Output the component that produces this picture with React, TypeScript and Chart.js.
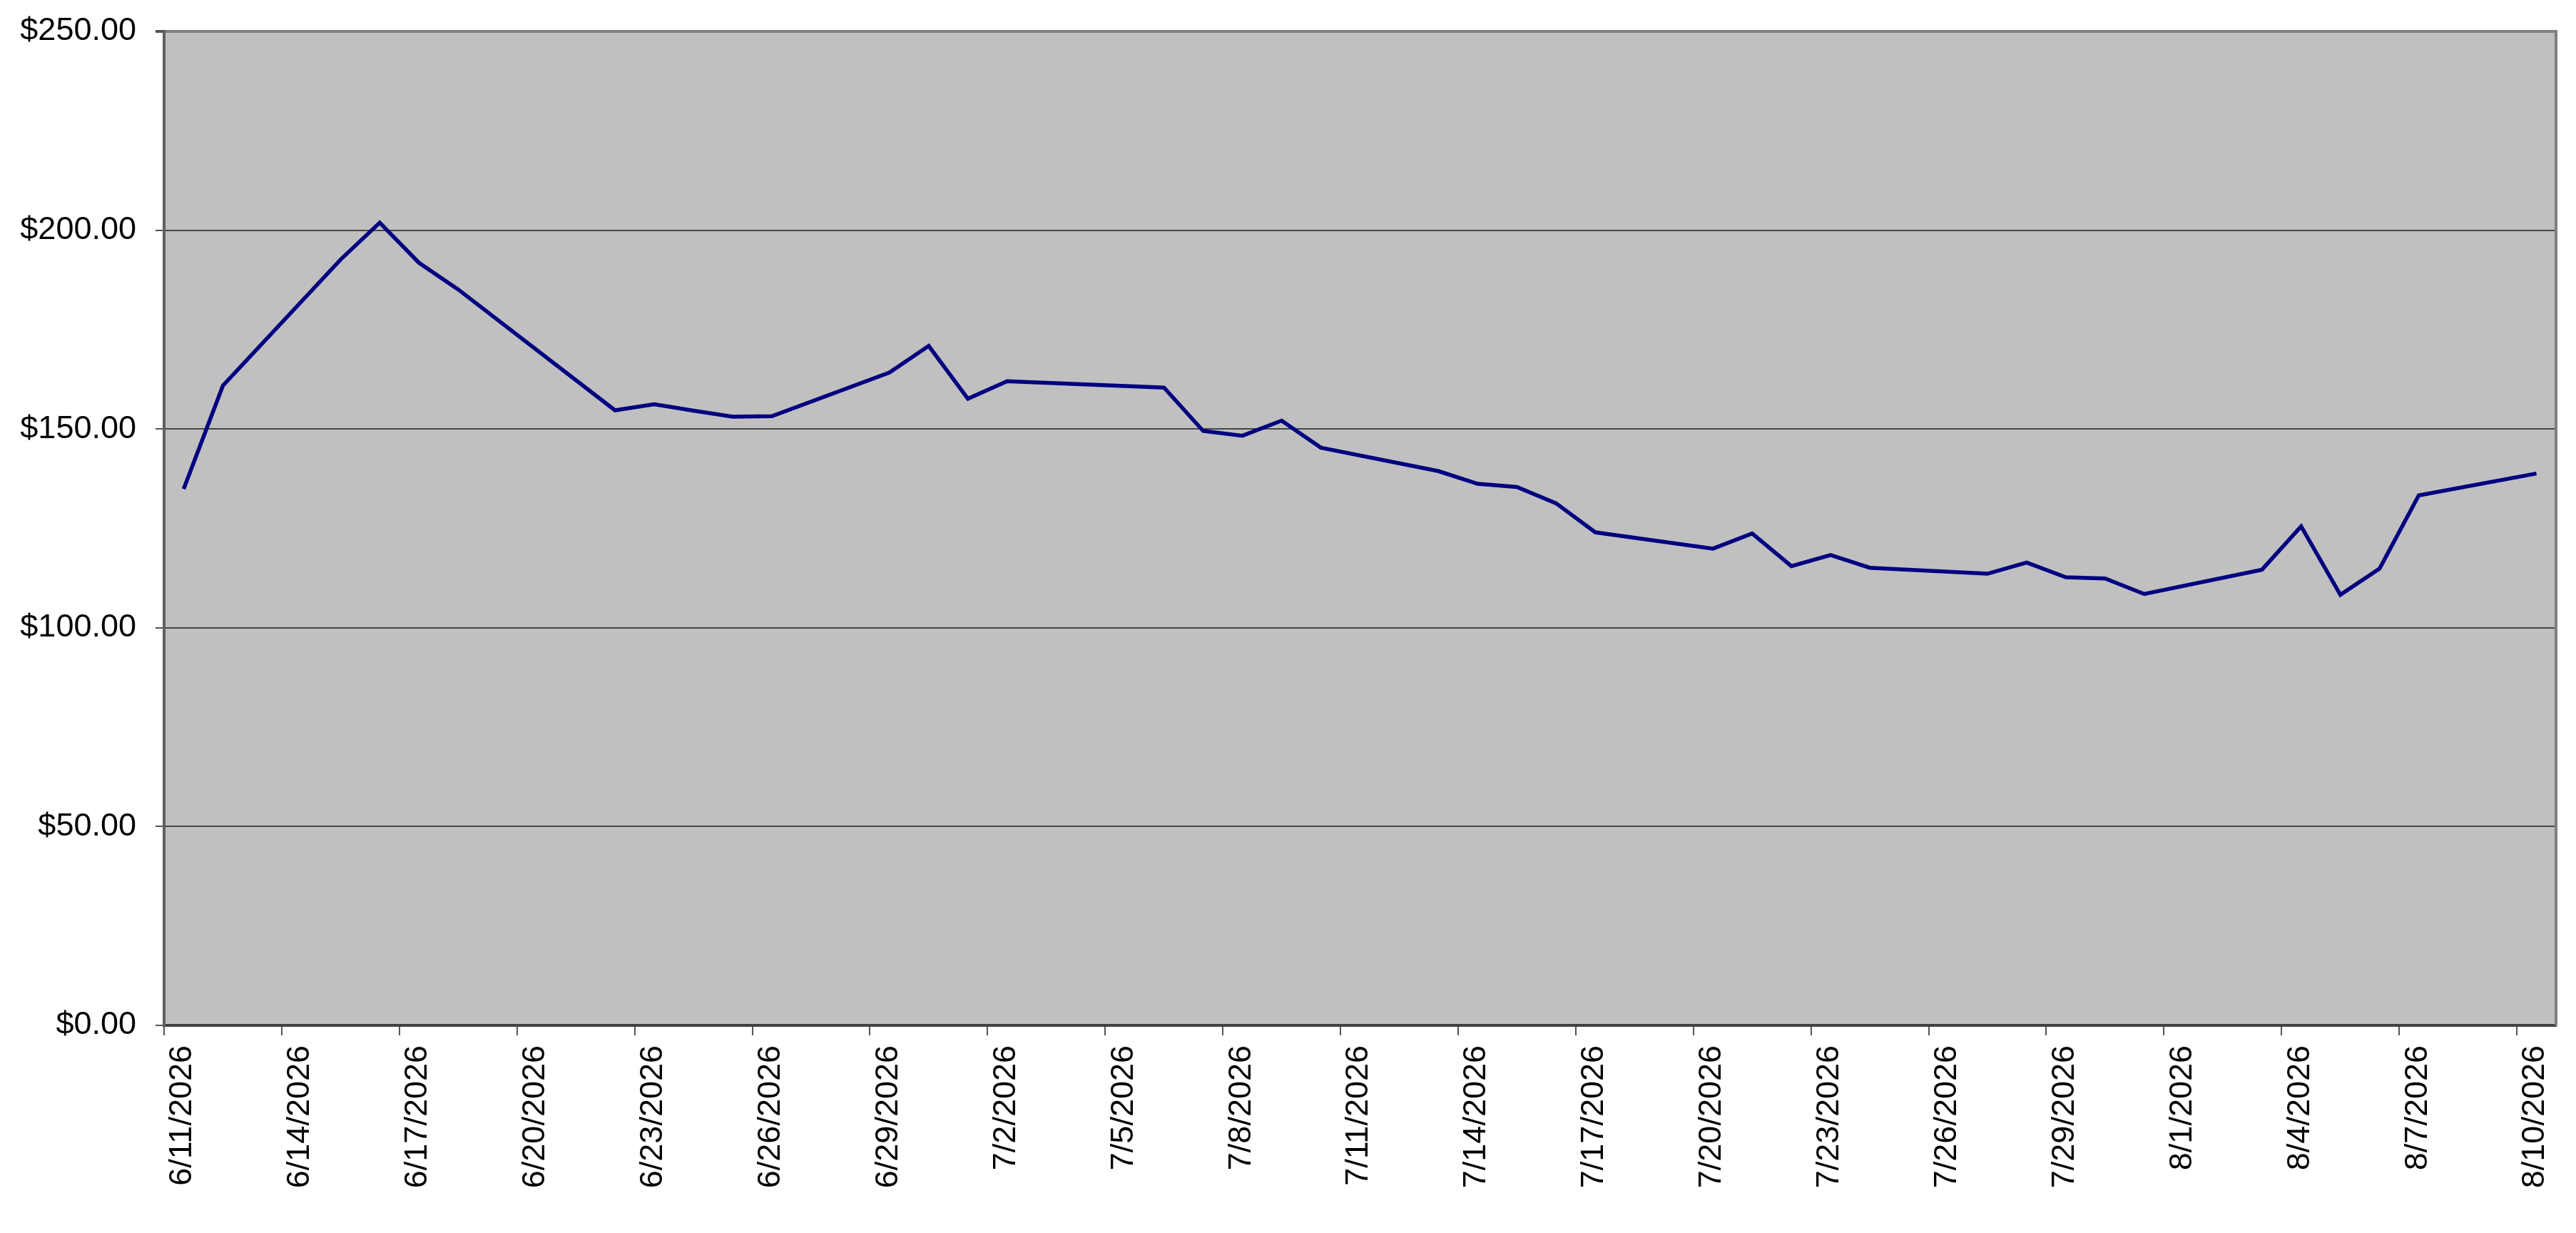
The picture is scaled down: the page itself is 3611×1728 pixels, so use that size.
import React, { useEffect, useRef } from 'react';
import { Chart, registerables } from 'chart.js';

Chart.register(...registerables);

const dates = [
    '6/11/2026', '6/12/2026', '6/15/2026', '6/16/2026', '6/17/2026', '6/18/2026',
    '6/22/2026', '6/23/2026', '6/24/2026', '6/25/2026', '6/26/2026',
    '6/29/2026', '6/30/2026', '7/1/2026', '7/2/2026',
    '7/6/2026', '7/7/2026', '7/8/2026', '7/9/2026', '7/10/2026',
    '7/13/2026', '7/14/2026', '7/15/2026', '7/16/2026', '7/17/2026',
    '7/20/2026', '7/21/2026', '7/22/2026', '7/23/2026', '7/24/2026',
    '7/27/2026', '7/28/2026', '7/29/2026', '7/30/2026', '7/31/2026',
    '8/3/2026', '8/4/2026', '8/5/2026', '8/6/2026', '8/7/2026',
    '8/10/2026',
];

const prices = [
    134.9, 160.9, 192.6, 201.9, 191.8, 185.1,
    154.7, 156.2, 154.6, 153.1, 153.2,
    164.2, 170.9, 157.6, 162.0,
    160.4, 149.5, 148.3, 152.1, 145.3,
    139.4, 136.2, 135.4, 131.3, 124.0,
    119.9, 123.7, 115.5, 118.3, 115.1,
    113.6, 116.4, 112.7, 112.4, 108.5,
    114.6, 125.5, 108.3, 114.9, 133.3,
    138.8,
];

const xTickLabels = [
    '6/11/2026', '6/14/2026', '6/17/2026', '6/20/2026', '6/23/2026', '6/26/2026',
    '6/29/2026', '7/2/2026', '7/5/2026', '7/8/2026', '7/11/2026', '7/14/2026',
    '7/17/2026', '7/20/2026', '7/23/2026', '7/26/2026', '7/29/2026', '8/1/2026',
    '8/4/2026', '8/7/2026', '8/10/2026',
];

const yTickValues = [0, 50, 100, 150, 200, 250];

const axisStart = '6/11/2026';
const axisEnd = '8/11/2026';

const FONT = 'Arial, "Liberation Sans", sans-serif';

// days since the first axis date
const dayOf = (s: string) => {
    const [m, d, y] = s.split('/').map(Number);
    const [m0, d0, y0] = axisStart.split('/').map(Number);
    return (Date.UTC(y, m - 1, d) - Date.UTC(y0, m0 - 1, d0)) / 86400000;
};

// grey plot background and the right-hand frame edge
const plotFrame = {
    id: 'plotFrame',
    beforeDraw(chart: Chart) {
        const { ctx, chartArea: a } = chart;
        ctx.save();
        ctx.fillStyle = '#c0c0c0';
        ctx.fillRect(a.left, a.top, a.right - a.left, a.bottom - a.top);
        ctx.restore();
    },
    afterDraw(chart: Chart) {
        const { ctx, chartArea: a } = chart;
        ctx.save();
        ctx.strokeStyle = '#808080';
        ctx.lineWidth = 4;
        ctx.beginPath();
        ctx.moveTo(a.right, a.top - 2);
        ctx.lineTo(a.right, a.bottom);
        ctx.stroke();
        ctx.restore();
    },
};

const PriceChart: React.FC = () => {
    const chartRef = useRef<HTMLCanvasElement>(null);
    const chartInstanceRef = useRef<Chart | null>(null);

    useEffect(() => {
        document.body.style.margin = '0';
        if (!chartRef.current) return;
        const ctx = chartRef.current.getContext('2d');
        if (!ctx) return;
        if (chartInstanceRef.current) chartInstanceRef.current.destroy();

        chartInstanceRef.current = new Chart(ctx, {
            type: 'line',
            data: {
                datasets: [
                    {
                        label: 'Price',
                        // each day is a category; the point sits in its middle
                        data: dates.map((d, i) => ({ x: dayOf(d) + 0.5, y: prices[i] })),
                        borderColor: '#000080',
                        borderWidth: 5.5,
                        pointRadius: 0,
                        tension: 0,
                        fill: false,
                    },
                ],
            },
            options: {
                responsive: true,
                maintainAspectRatio: false,
                animation: false,
                layout: { padding: { top: 44, right: 28, left: 0, bottom: 0 } },
                plugins: {
                    legend: { display: false },
                    tooltip: { enabled: false },
                },
                scales: {
                    x: {
                        type: 'linear',
                        min: 0,
                        max: dayOf(axisEnd),
                        afterBuildTicks: (scale: any) => {
                            scale.ticks = xTickLabels.map((l) => ({ value: dayOf(l) }));
                        },
                        afterFit: (scale: any) => {
                            scale.height = 291;
                            scale.paddingLeft = 0;
                            scale.paddingRight = 0;
                        },
                        ticks: {
                            autoSkip: false,
                            minRotation: 90,
                            maxRotation: 90,
                            padding: 14,
                            labelOffset: 26,
                            color: '#000',
                            font: { family: FONT, size: 45 },
                            callback: (v: any) => xTickLabels.find((l) => dayOf(l) === v) ?? '',
                        },
                        grid: {
                            drawOnChartArea: false,
                            drawTicks: true,
                            tickLength: 14,
                            tickColor: '#555',
                            lineWidth: 2,
                        },
                        border: { color: '#404040', width: 4 },
                    },
                    y: {
                        min: 0,
                        max: 250,
                        afterBuildTicks: (scale: any) => {
                            scale.ticks = yTickValues.map((v) => ({ value: v }));
                        },
                        afterFit: (scale: any) => {
                            scale.width = 230;
                            scale.paddingTop = 0;
                            scale.paddingBottom = 0;
                        },
                        ticks: {
                            padding: 27,
                            color: '#000',
                            font: { family: FONT, size: 45 },
                            callback: (v: any) => '$' + Number(v).toFixed(2),
                        },
                        grid: {
                            color: (c: any) => (c.tick && c.tick.value === 250 ? '#808080' : '#464646'),
                            lineWidth: (c: any) => (c.tick && c.tick.value === 250 ? 4 : 2),
                            tickLength: 12,
                            tickColor: '#555',
                        },
                        border: { color: '#606060', width: 4 },
                    },
                },
            },
            plugins: [plotFrame],
        });

        return () => {
            if (chartInstanceRef.current) {
                chartInstanceRef.current.destroy();
                chartInstanceRef.current = null;
            }
        };
    }, []);

    return (
        <div style={{ position: 'relative', width: '100vw', height: '100vh', background: '#fff' }}>
            <canvas ref={chartRef}></canvas>
        </div>
    );
};

export default function App() {
    return <PriceChart />;
}
